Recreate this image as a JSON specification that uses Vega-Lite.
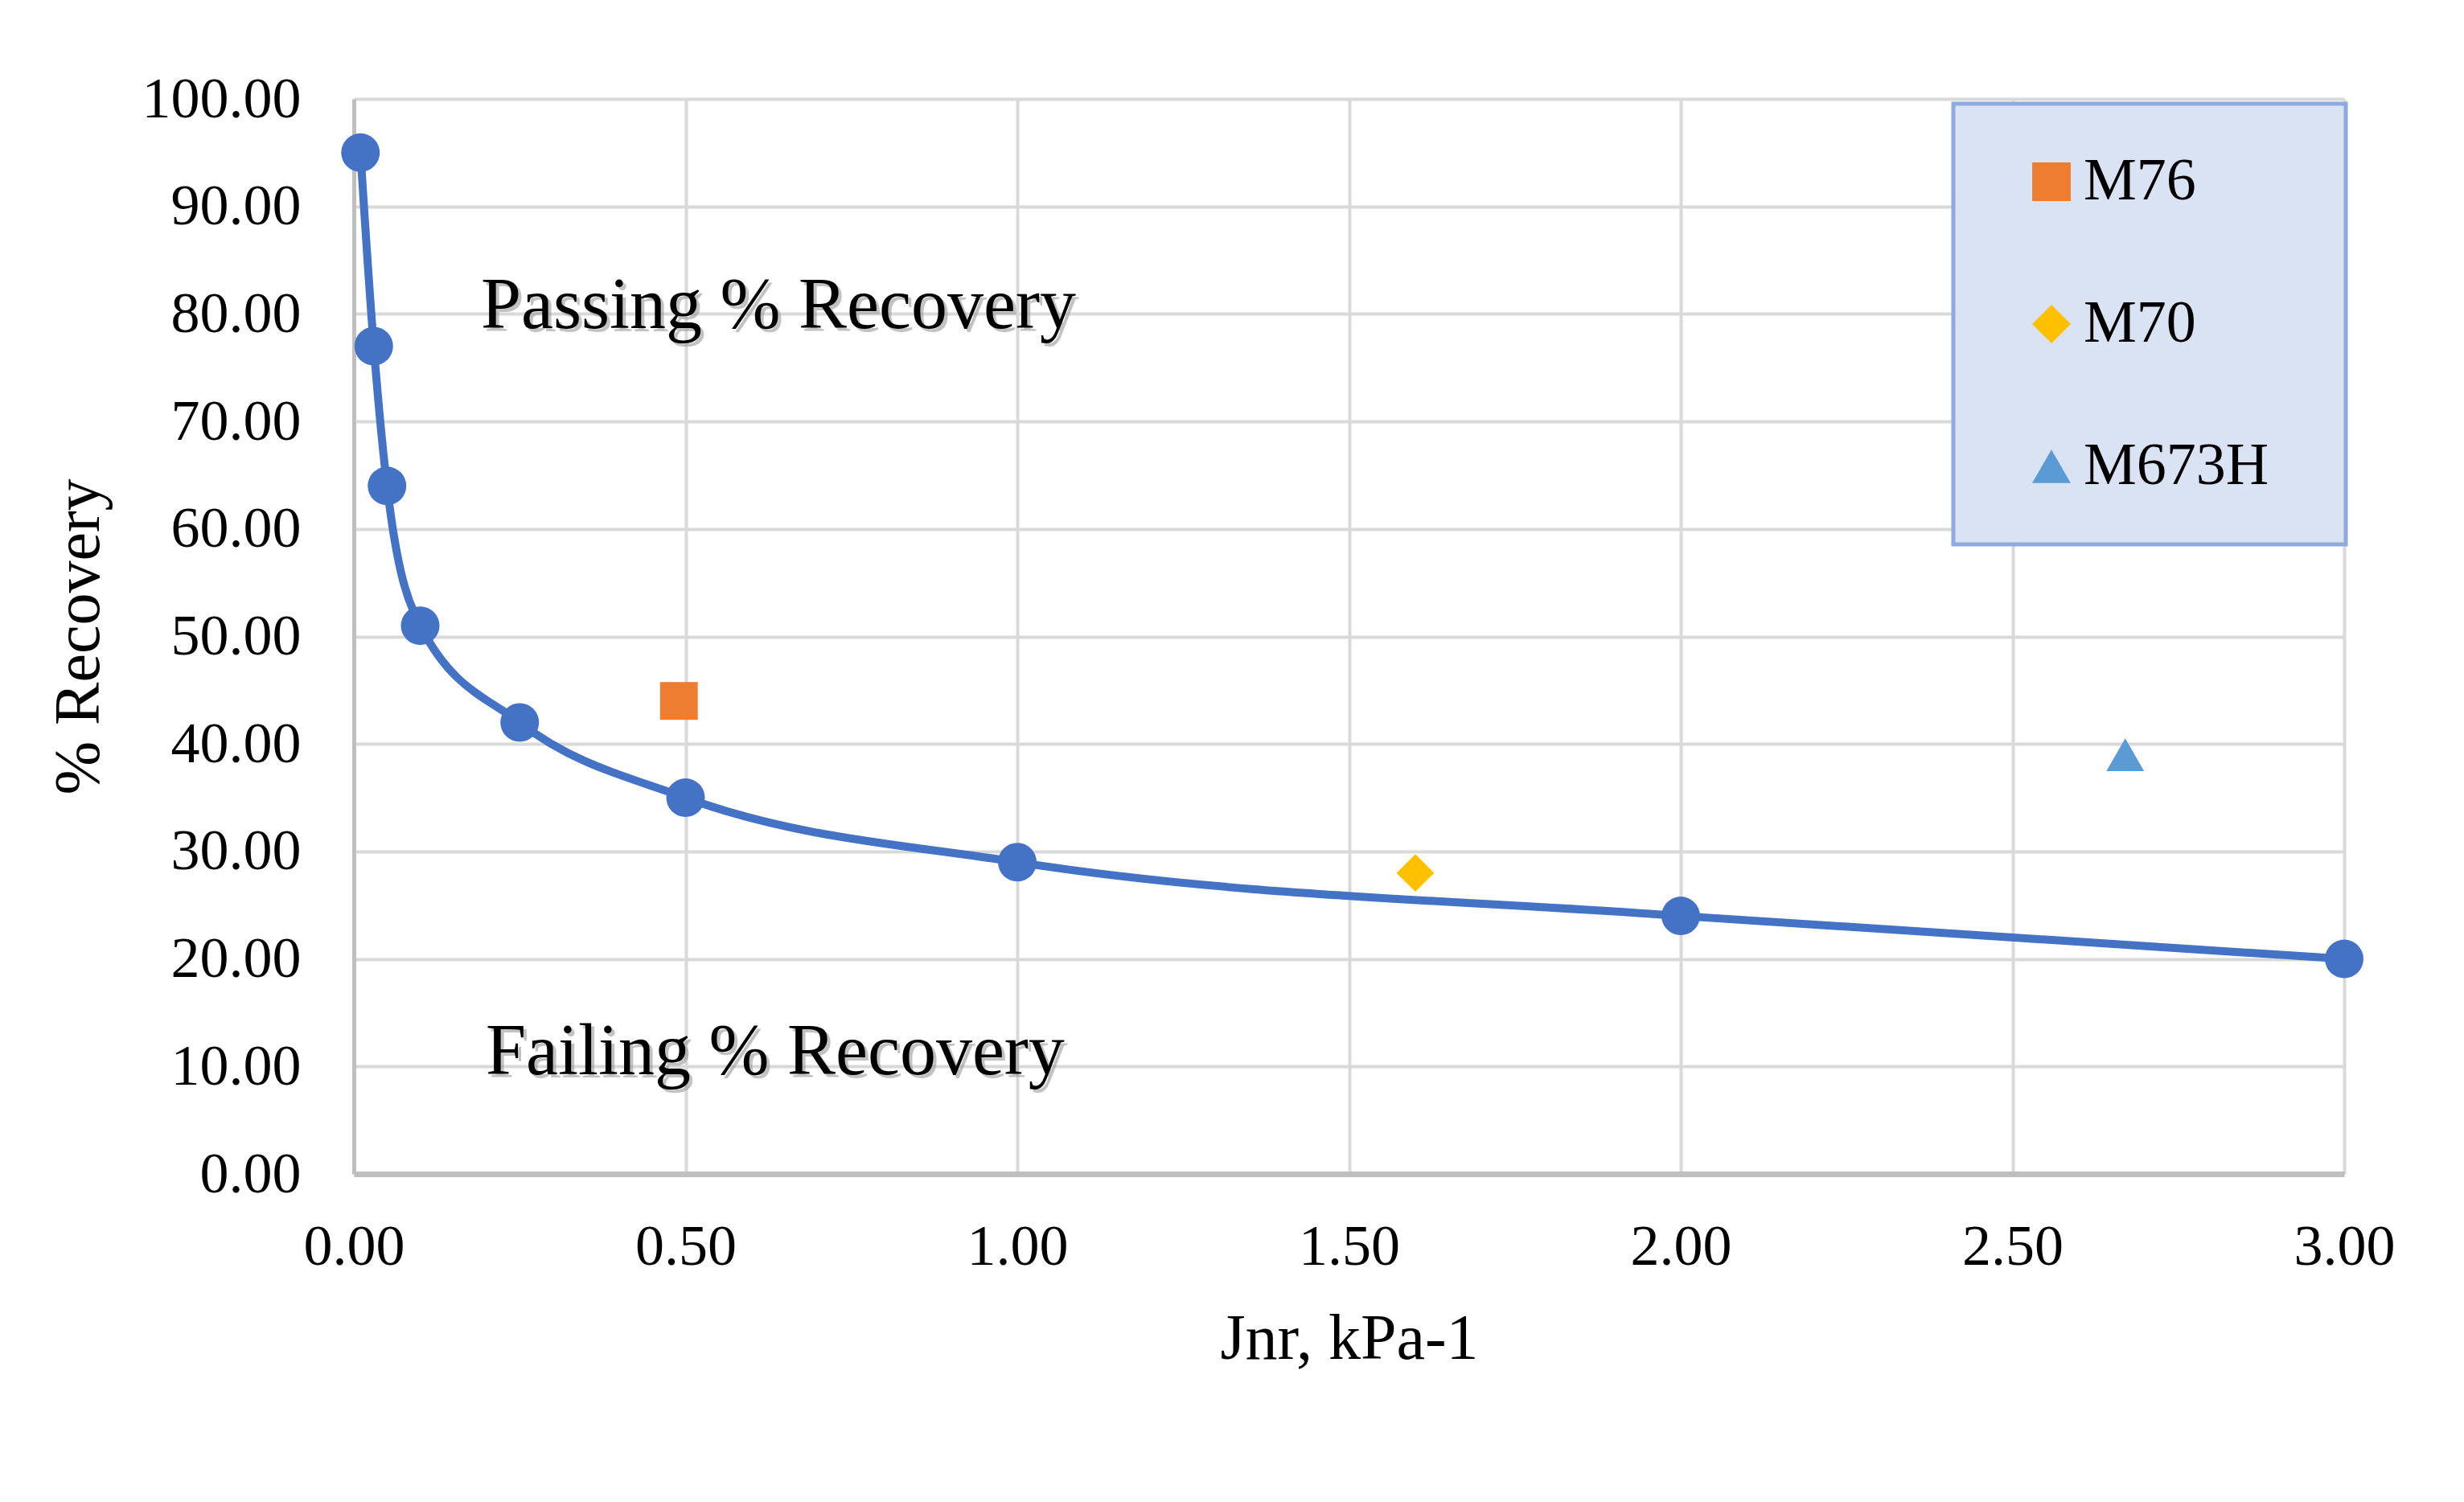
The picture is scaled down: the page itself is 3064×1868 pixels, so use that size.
{
  "$schema": "https://vega.github.io/schema/vega-lite/v6.json",
  "width": 2475,
  "height": 1337,
  "autosize": {"type": "none"},
  "padding": {"left": 440, "top": 123, "right": 149, "bottom": 408},
  "background": "white",
  "config": {
    "font": "Liberation Serif",
    "view": {"stroke": null},
    "axis": {
      "labelFont": "Liberation Serif",
      "labelFontSize": 72,
      "labelColor": "black",
      "labelLimit": 600,
      "labelFlush": false,
      "labelOverlap": false,
      "titleFont": "Liberation Serif",
      "titleFontSize": 80,
      "titleFontWeight": "normal",
      "titleColor": "black",
      "gridColor": "#d9d9d9",
      "gridWidth": 4,
      "domainColor": "#bfbfbf",
      "ticks": false
    },
    "legend": {
      "orient": "none",
      "legendX": 1989,
      "legendY": 6,
      "fillColor": "#dae3f3",
      "strokeColor": "#8faadc",
      "strokeWidth": 5,
      "padding": 60,
      "symbolOffset": 25,
      "labelFont": "Liberation Serif",
      "labelFontSize": 74,
      "labelColor": "black",
      "labelLimit": 800,
      "labelOffset": 3,
      "symbolSize": 2300,
      "symbolStrokeWidth": 0,
      "rowPadding": 103,
      "titleOrient": "right",
      "titleFontSize": 74,
      "titlePadding": 36
    }
  },
  "datasets": {
    "curve": [
      {"jnr": 0.01, "rec": 95},
      {"jnr": 0.03, "rec": 77},
      {"jnr": 0.05, "rec": 64},
      {"jnr": 0.1, "rec": 51},
      {"jnr": 0.25, "rec": 42},
      {"jnr": 0.5, "rec": 35},
      {"jnr": 1.0, "rec": 29},
      {"jnr": 2.0, "rec": 24},
      {"jnr": 3.0, "rec": 20}
    ],
    "binders": [
      {"binder": "M76", "jnr": 0.49, "rec": 44},
      {"binder": "M70", "jnr": 1.6, "rec": 28},
      {"binder": "M673H", "jnr": 2.67, "rec": 39}
    ],
    "labels": [
      {"label": "Passing % Recovery", "jnr": 0.64, "rec": 80.7},
      {"label": "Failing % Recovery", "jnr": 0.635, "rec": 11.3}
    ]
  },
  "encoding": {
    "x": {
      "field": "jnr",
      "type": "quantitative",
      "scale": {"domain": [0, 3], "nice": false, "zero": false},
      "axis": {
        "title": "Jnr, kPa-1",
        "values": [0, 0.5, 1, 1.5, 2, 2.5, 3],
        "format": ".2f",
        "labelPadding": 55,
        "titlePadding": 40,
        "domainWidth": 7
      }
    },
    "y": {
      "field": "rec",
      "type": "quantitative",
      "scale": {"domain": [0, 100], "nice": false},
      "axis": {
        "title": "% Recovery",
        "values": [0, 10, 20, 30, 40, 50, 60, 70, 80, 90, 100],
        "format": ".2f",
        "labelPadding": 66,
        "titlePadding": 101,
        "domainWidth": 5
      }
    }
  },
  "layer": [
    {
      "data": {"name": "curve"},
      "mark": {"type": "line", "interpolate": "monotone", "color": "#4472c4", "strokeWidth": 10}
    },
    {
      "data": {"name": "curve"},
      "mark": {"type": "point", "shape": "circle", "filled": true, "color": "#4472c4", "size": 2304, "opacity": 1}
    },
    {
      "data": {"name": "binders"},
      "mark": {"type": "point", "filled": true, "opacity": 1, "size": 2200},
      "encoding": {
        "shape": {
          "field": "binder",
          "type": "nominal",
          "scale": {"domain": ["M76", "M70", "M673H"], "range": ["square", "diamond", "triangle-up"]},
          "legend": {"title": "\u00a0"}
        },
        "color": {
          "field": "binder",
          "type": "nominal",
          "scale": {"domain": ["M76", "M70", "M673H"], "range": ["#ed7d31", "#ffc000", "#5b9bd5"]},
          "legend": {"title": "\u00a0"}
        }
      }
    },
    {
      "data": {"name": "labels"},
      "mark": {"type": "text", "font": "Liberation Serif", "fontSize": 90, "align": "center", "baseline": "middle", "color": "#9a9a9a", "opacity": 0.6, "dx": 4, "dy": 4},
      "encoding": {"text": {"field": "label"}}
    },
    {
      "data": {"name": "labels"},
      "mark": {"type": "text", "font": "Liberation Serif", "fontSize": 90, "align": "center", "baseline": "middle", "color": "black"},
      "encoding": {"text": {"field": "label"}}
    }
  ]
}
